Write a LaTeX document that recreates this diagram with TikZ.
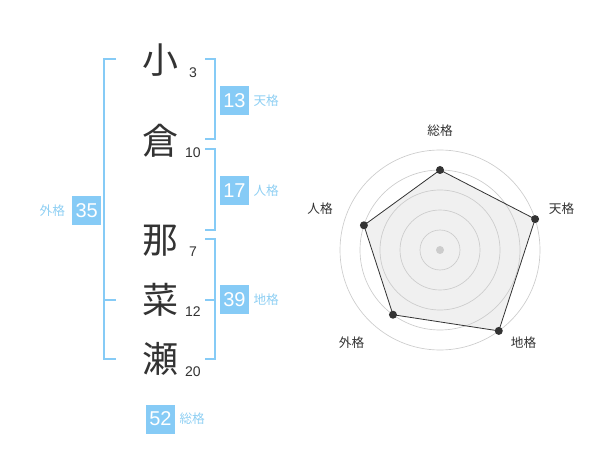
\documentclass[tikz,border=0pt]{standalone}
\usepackage{fontspec}
\setmainfont{Liberation Sans}
\newfontfamily\jpfont{Noto Sans CJK JP}
\usetikzlibrary{positioning}
\definecolor{kakublue}{HTML}{86CBF6}
\definecolor{kakutext}{HTML}{8ECFF3}
\definecolor{inkgray}{HTML}{333333}
\definecolor{ringgray}{HTML}{CCCCCC}
\definecolor{areagray}{HTML}{F0F0F0}
\tikzset{
	kanji/.style={font=\jpfont\fontsize{27}{27}\selectfont,text=inkgray,inner sep=0pt},
	strokes/.style={font=\fontsize{10.5}{10.5}\selectfont,text=inkgray,inner sep=0pt},
	kakubox/.style={fill=kakublue,text=white,minimum size=21.75pt,inner sep=0pt,font=\fontsize{15}{15}\selectfont},
	kakulabel/.style={font=\jpfont\fontsize{9.5}{9.5}\selectfont,text=kakutext,inner sep=0pt},
	bracket/.style={draw=kakublue,line width=1.5pt},
	radarlabel/.style={font=\jpfont\fontsize{9.5}{9.5}\selectfont,text=inkgray,inner sep=0pt},
}
\begin{document}
\begin{tikzpicture}[x=0.75pt,y=-0.75pt]
		\useasboundingbox (0,0) rectangle (600,470);
		
		% Name characters and their stroke counts
		\node[kanji] (k1) at (160,60) {小};
		\node[kanji] (k2) at (160,141) {倉};
		\node[kanji] (k3) at (160,241) {那};
		\node[kanji] (k4) at (160,300) {菜};
		\node[kanji] (k5) at (160,359) {瀬};
		\node[strokes] (s1) at (193,73) {3};
		\node[strokes] (s2) at (193,153) {10};
		\node[strokes] (s3) at (193,252) {7};
		\node[strokes] (s4) at (193,312) {12};
		\node[strokes] (s5) at (193,372) {20};
		
		% Brackets
		\draw[bracket] (205,59) -- (215,59) -- (215,139) -- (205,139);
		\draw[bracket] (205,149) -- (215,149) -- (215,230) -- (205,230);
		\draw[bracket] (205,239) -- (215,239) -- (215,359) -- (205,359);
		\draw[bracket] (205,300) -- (215,300);
		\draw[bracket] (116,59) -- (104,59) -- (104,359) -- (116,359);
		\draw[bracket] (104,300) -- (116,300);
		
		% Scores
		\node[kakubox] (ten) at (234.5,100.5) {13};
		\node[kakulabel,right=3pt of ten] (tenl) {天格};
		\node[kakubox] (jin) at (234.5,190.5) {17};
		\node[kakulabel,right=3pt of jin] (jinl) {人格};
		\node[kakubox] (chi) at (234.5,300) {39};
		\node[kakulabel,right=3pt of chi] (chil) {地格};
		\node[kakubox] (gai) at (86.7,210.5) {35};
		\node[kakulabel,left=5pt of gai] (gail) {外格};
		\node[kakubox] (sou) at (160.5,419) {52};
		\node[kakulabel,right=3pt of sou] (soul) {総格};
		
		% Radar chart
		\begin{scope}[shift={(440,250)}]
		\coordinate (p1) at (90:60pt);
		\coordinate (p2) at (18:75pt);
		\coordinate (p3) at (-54:75pt);
		\coordinate (p4) at (-126:60pt);
		\coordinate (p5) at (162:60pt);
		\fill[areagray] (p1) -- (p2) -- (p3) -- (p4) -- (p5) -- cycle;
		\foreach \r in {15,30,45,60,75}
			\draw[ringgray,line width=0.5pt] (0,0) circle (\r pt);
		\draw[inkgray,line width=0.6pt] (p1) -- (p2) -- (p3) -- (p4) -- (p5) -- cycle;
		\foreach \p in {p1,p2,p3,p4,p5}
			\fill[inkgray] (\p) circle (3pt);
		\fill[ringgray] (0,0) circle (3pt);
		\end{scope}
		\node[radarlabel] (r1) at (440,130.5) {総格};
		\node[radarlabel] (r2) at (561.5,208.5) {天格};
		\node[radarlabel] (r3) at (523.5,342.5) {地格};
		\node[radarlabel] (r4) at (351.5,342.5) {外格};
		\node[radarlabel] (r5) at (320,208.5) {人格};
		
\end{tikzpicture}
\end{document}
